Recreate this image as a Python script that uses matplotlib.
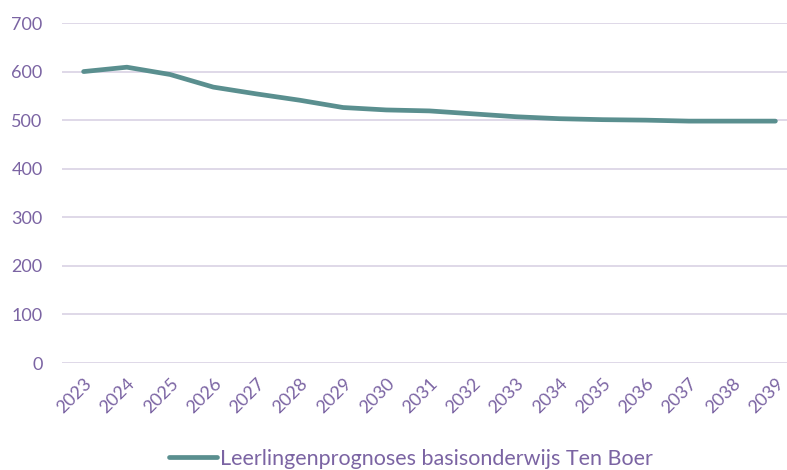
import matplotlib
matplotlib.use('Agg')
import matplotlib.pyplot as plt

plt.rcParams['font.family'] = ['Lato', 'DejaVu Sans']

# leerlingenprognose
years = [2023, 2024, 2025, 2026, 2027, 2028, 2029, 2030, 2031,
         2032, 2033, 2034, 2035, 2036, 2037, 2038, 2039]
pupils = [600, 609, 594, 568, 554, 541, 526, 521, 519,
          513, 507, 503, 501, 500, 498, 498, 498]
yticks = [0, 100, 200, 300, 400, 500, 600, 700]
label = 'Leerlingenprognoses basisonderwijs Ten Boer'

txt_color = '#7B64A3'
grid_color = '#DCD5E6'
line_color = '#5A8F8F'

fig = plt.figure(figsize=(7.87, 4.70), dpi=100)
ax = fig.add_axes([62 / 787, 1 - 363 / 470, 735 / 787, 340 / 470])

ax.plot(years, pupils, color=line_color, linewidth=3.4,
        solid_capstyle='round', label=label, zorder=3)

ax.set_xlim(2022.5, 2039.5)
ax.set_ylim(0, 700)
ax.set_yticks(yticks)
ax.set_xticks(years)
ax.set_xticklabels([str(y) for y in years], rotation=45, ha='right',
                   rotation_mode='anchor')
ax.yaxis.grid(True, color=grid_color, linewidth=1.3)
ax.set_axisbelow(True)
for s in ax.spines.values():
    s.set_visible(False)
ax.tick_params(axis='both', length=0, colors=txt_color, labelsize=13)
ax.tick_params(axis='y', pad=14)
ax.tick_params(axis='x', pad=9)

leg = ax.legend(loc='center', bbox_to_anchor=(0.475, -0.282),
                frameon=False, fontsize=15.5, handlelength=2.2,
                handletextpad=0.15)
for t in leg.get_texts():
    t.set_color(txt_color)

fig.savefig('out.png', dpi=100)
